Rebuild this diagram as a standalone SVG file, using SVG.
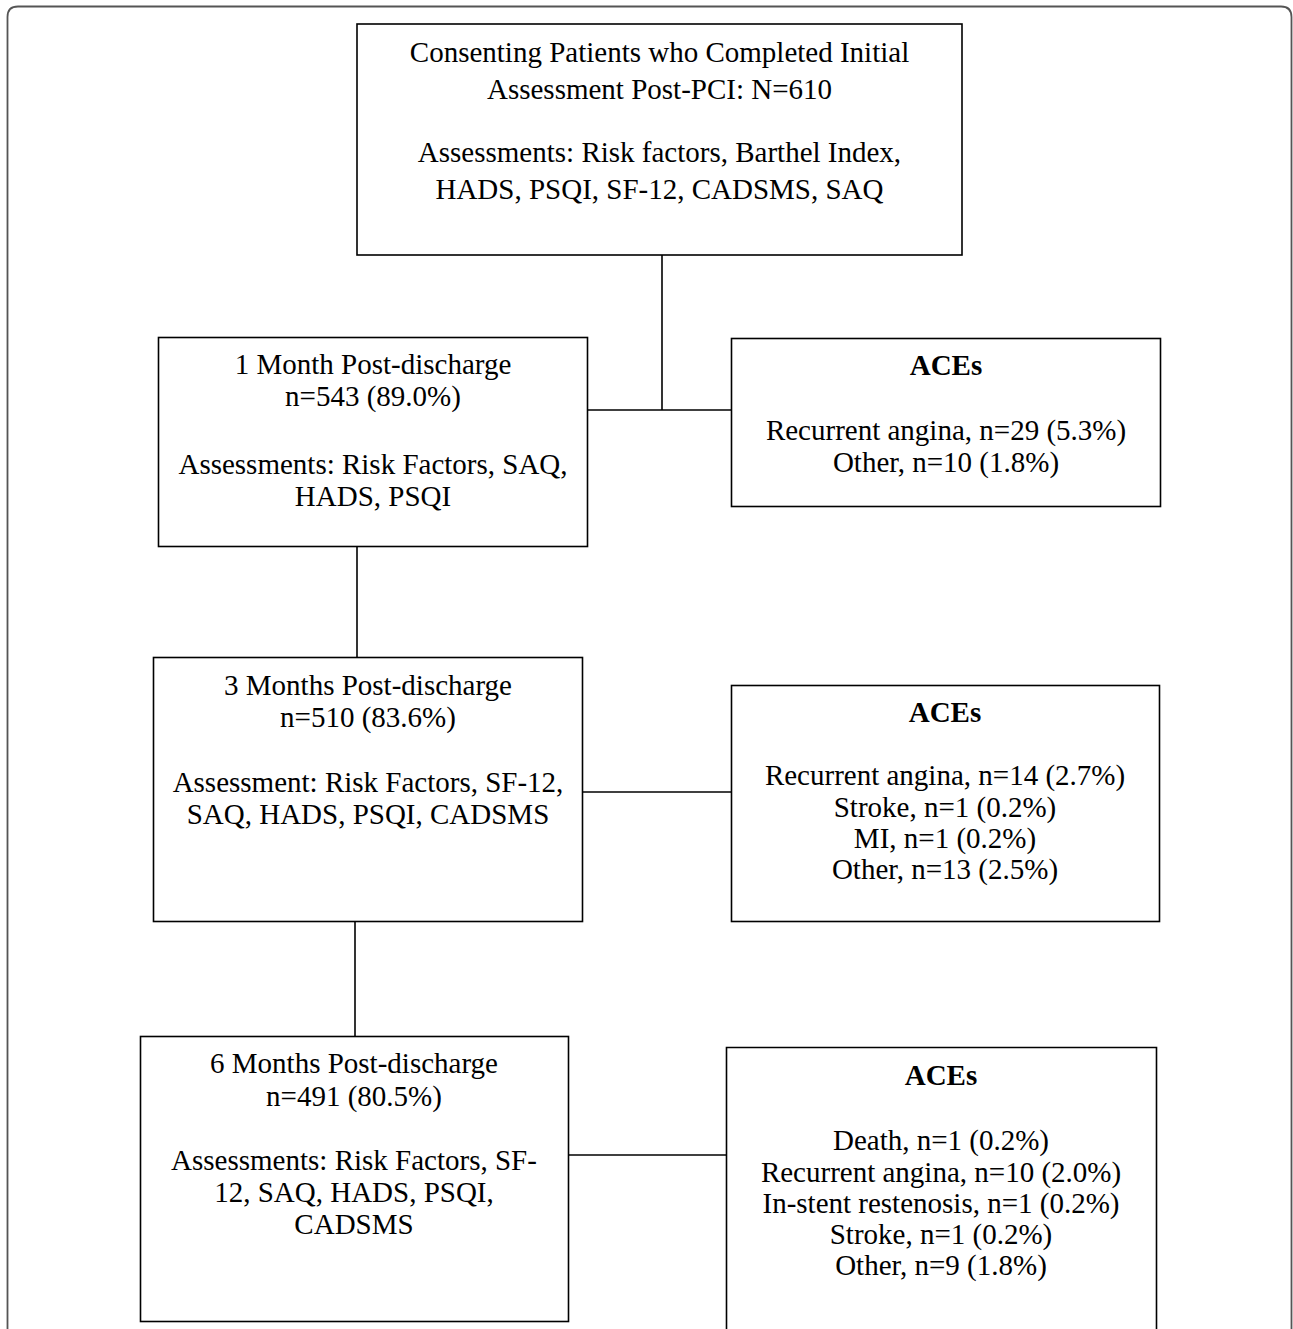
<svg xmlns="http://www.w3.org/2000/svg" width="1293" height="1329" viewBox="0 0 1293 1329">
<style>
.box{fill:#fff;stroke:#000;stroke-width:1.6}
.ln{stroke:#000;stroke-width:1.6;fill:none}
text{font-family:"Liberation Serif","Times New Roman",serif;font-size:29px;fill:#000;text-anchor:middle}
.b{font-weight:bold}
</style>
<rect x="0" y="0" width="1293" height="1329" fill="#fff"/>
<path d="M7.5,1340 V17 Q7.5,6.5 18,6.5 H1281 Q1291.5,6.5 1291.5,17 V1340" fill="none" stroke="#555" stroke-width="1.8"/>
<g id="connectors">
<line class="ln" x1="662" y1="255" x2="662" y2="410"/>
<line class="ln" x1="588" y1="410" x2="731" y2="410"/>
<line class="ln" x1="357" y1="547" x2="357" y2="657"/>
<line class="ln" x1="583" y1="792" x2="731" y2="792"/>
<line class="ln" x1="355" y1="922" x2="355" y2="1036"/>
<line class="ln" x1="569" y1="1155" x2="726" y2="1155"/>
</g>
<g id="baseline">
<rect class="box" x="357" y="24" width="605" height="231"/>
<text x="659.5" y="62">Consenting Patients who Completed Initial</text>
<text x="659.5" y="99">Assessment Post-PCI: N=610</text>
<text x="659.5" y="162">Assessments: Risk factors, Barthel Index,</text>
<text x="659.5" y="199">HADS, PSQI, SF-12, CADSMS, SAQ</text>
</g>
<g id="month1">
<rect class="box" x="158.5" y="337.5" width="429" height="209"/>
<text x="373" y="374">1 Month Post-discharge</text>
<text x="373" y="406">n=543 (89.0%)</text>
<text x="373" y="474">Assessments: Risk Factors, SAQ,</text>
<text x="373" y="506">HADS, PSQI</text>
</g>
<g id="aces1">
<rect class="box" x="731.5" y="338.5" width="429" height="168"/>
<text class="b" x="946" y="375">ACEs</text>
<text x="946" y="440">Recurrent angina, n=29 (5.3%)</text>
<text x="946" y="472">Other, n=10 (1.8%)</text>
</g>
<g id="month3">
<rect class="box" x="153.5" y="657.5" width="429" height="264"/>
<text x="368" y="695">3 Months Post-discharge</text>
<text x="368" y="727">n=510 (83.6%)</text>
<text x="368" y="792">Assessment: Risk Factors, SF-12,</text>
<text x="368" y="824">SAQ, HADS, PSQI, CADSMS</text>
</g>
<g id="aces3">
<rect class="box" x="731.5" y="685.5" width="428" height="236"/>
<text class="b" x="945" y="722">ACEs</text>
<text x="945" y="785">Recurrent angina, n=14 (2.7%)</text>
<text x="945" y="817">Stroke, n=1 (0.2%)</text>
<text x="945" y="848">MI, n=1 (0.2%)</text>
<text x="945" y="879">Other, n=13 (2.5%)</text>
</g>
<g id="month6">
<rect class="box" x="140.5" y="1036.5" width="428" height="285"/>
<text x="354" y="1073">6 Months Post-discharge</text>
<text x="354" y="1106">n=491 (80.5%)</text>
<text x="354" y="1170">Assessments: Risk Factors, SF-</text>
<text x="354" y="1202">12, SAQ, HADS, PSQI,</text>
<text x="354" y="1234">CADSMS</text>
</g>
<g id="aces6">
<path class="ln" d="M726.5,1340 V1047.5 H1156.5 V1340" style="fill:#fff"/>
<text class="b" x="941" y="1085">ACEs</text>
<text x="941" y="1150">Death, n=1 (0.2%)</text>
<text x="941" y="1182">Recurrent angina, n=10 (2.0%)</text>
<text x="941" y="1213">In-stent restenosis, n=1 (0.2%)</text>
<text x="941" y="1244">Stroke, n=1 (0.2%)</text>
<text x="941" y="1275">Other, n=9 (1.8%)</text>
</g>
</svg>
